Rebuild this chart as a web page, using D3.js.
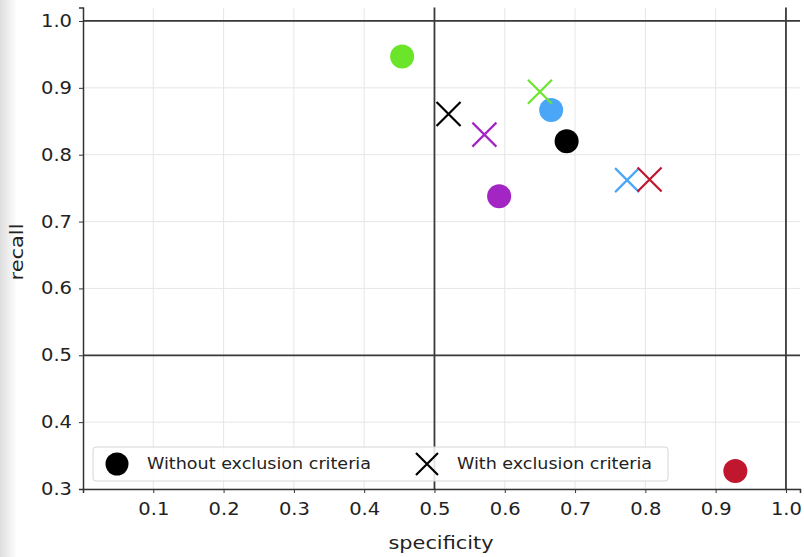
<!DOCTYPE html>
<html>
<head>
<meta charset="utf-8">
<script src="https://cdn.jsdelivr.net/npm/d3@7"></script>
<style>
  body { margin: 0; background: #fff; }
  text { font-family: "DejaVu Sans", sans-serif; fill: #222; }
</style>
</head>
<body>
<script>
// values
var groups = ["green", "blue", "black", "purple", "red"];
var colors = ["#6be52a", "#4ba6f7", "#000000", "#a225c4", "#c0172f"];
var withoutSpec = [0.454, 0.666, 0.688, 0.592, 0.928];
var withoutRecall = [0.947, 0.867, 0.820, 0.738, 0.327];
var withSpec = [0.650, 0.774, 0.520, 0.571, 0.806];
var withRecall = [0.894, 0.762, 0.861, 0.830, 0.763];
var xTicks = [0.1, 0.2, 0.3, 0.4, 0.5, 0.6, 0.7, 0.8, 0.9, 1.0];
var yTicks = [0.3, 0.4, 0.5, 0.6, 0.7, 0.8, 0.9, 1.0];
var legendLabels = ["Without exclusion criteria", "With exclusion criteria"];

var width = 804, height = 557;
var svg = d3.select("body").append("svg")
    .attr("width", width)
    .attr("height", height);

// soft shadow on the left edge of the screenshot
var grad = svg.append("defs").append("linearGradient").attr("id", "shade");
grad.append("stop").attr("offset", "0%").attr("stop-color", "#dedede");
grad.append("stop").attr("offset", "100%").attr("stop-color", "#ffffff");
svg.append("rect").attr("x", 0).attr("y", 0).attr("width", 17).attr("height", height)
    .attr("fill", "url(#shade)");

var x = d3.scaleLinear().domain([0, 1.02]).range([83, 800]);
var y = d3.scaleLinear().domain([0.3, 1.02]).range([489, 7.6]);

// grid
svg.append("g").selectAll("line").data(xTicks).enter().append("line")
    .attr("x1", function (d) { return x(d); })
    .attr("x2", function (d) { return x(d); })
    .attr("y1", y(1.02)).attr("y2", y(0.3))
    .attr("stroke", "#e6e6e6").attr("stroke-width", 1);
svg.append("g").selectAll("line").data(yTicks).enter().append("line")
    .attr("y1", function (d) { return y(d); })
    .attr("y2", function (d) { return y(d); })
    .attr("x1", x(0)).attr("x2", x(1.02))
    .attr("stroke", "#e6e6e6").attr("stroke-width", 1);

// reference lines
[0.5, 1.0].forEach(function (v) {
    svg.append("line").attr("x1", x(v)).attr("x2", x(v))
        .attr("y1", y(1.02)).attr("y2", y(0.3))
        .attr("stroke", "#3a3a3a").attr("stroke-width", 1.8);
    svg.append("line").attr("y1", y(v)).attr("y2", y(v))
        .attr("x1", x(0)).attr("x2", x(1.02))
        .attr("stroke", "#3a3a3a").attr("stroke-width", 1.8);
});

// axes
var xAxis = svg.append("g").attr("transform", "translate(0," + y(0.3) + ")")
    .call(d3.axisBottom(x).tickValues(xTicks).tickFormat(d3.format(".1f")).tickSizeOuter(0).tickSize(4).tickPadding(10));
var yAxis = svg.append("g").attr("transform", "translate(" + x(0) + ",0)")
    .call(d3.axisLeft(y).tickValues(yTicks).tickFormat(d3.format(".1f")).tickSizeOuter(0).tickSize(4).tickPadding(7));
[xAxis, yAxis].forEach(function (a) {
    a.select(".domain").attr("stroke", "#333").attr("stroke-width", 1.5);
    a.selectAll(".tick line").attr("stroke", "#333");
    a.selectAll(".tick text").attr("font-size", 17).attr("fill", "#222")
        .attr("textLength", 31).attr("lengthAdjust", "spacingAndGlyphs")
        .style("font-family", "DejaVu Sans");
});

svg.append("text").attr("x", 441).attr("y", 549).attr("text-anchor", "middle")
    .attr("font-size", 17).attr("textLength", 105).attr("lengthAdjust", "spacingAndGlyphs")
    .text("specificity");
svg.append("text").attr("transform", "translate(23,252) rotate(-90)")
    .attr("text-anchor", "middle").attr("font-size", 17)
    .attr("textLength", 57).attr("lengthAdjust", "spacingAndGlyphs").text("recall");

// markers
function cross(g, cx, cy, r, color) {
    g.append("path")
        .attr("d", "M" + (cx - r) + "," + (cy - r) + "L" + (cx + r) + "," + (cy + r) +
                   "M" + (cx - r) + "," + (cy + r) + "L" + (cx + r) + "," + (cy - r))
        .attr("stroke", color).attr("stroke-width", 2.2).attr("fill", "none");
}

svg.append("g").selectAll("circle").data(groups).enter().append("circle")
    .attr("cx", function (d, i) { return x(withoutSpec[i]); })
    .attr("cy", function (d, i) { return y(withoutRecall[i]); })
    .attr("r", 12)
    .attr("fill", function (d, i) { return colors[i]; });

var xs = svg.append("g");
groups.forEach(function (d, i) {
    cross(xs, x(withSpec[i]), y(withRecall[i]), 12, colors[i]);
});

// legend
var lg = svg.append("g");
lg.append("rect").attr("x", 93).attr("y", 447).attr("width", 575).attr("height", 34)
    .attr("rx", 3).attr("fill", "#fff").attr("fill-opacity", 0.85)
    .attr("stroke", "#d6d6d6");
lg.append("circle").attr("cx", 117).attr("cy", 464).attr("r", 11.5).attr("fill", "#000");
lg.append("text").attr("x", 147).attr("y", 469).attr("font-size", 15)
    .attr("textLength", 224).attr("lengthAdjust", "spacingAndGlyphs").text(legendLabels[0]);
cross(lg, 427, 464, 11, "#000");
lg.append("text").attr("x", 457).attr("y", 469).attr("font-size", 15)
    .attr("textLength", 195).attr("lengthAdjust", "spacingAndGlyphs").text(legendLabels[1]);
</script>
</body>
</html>
